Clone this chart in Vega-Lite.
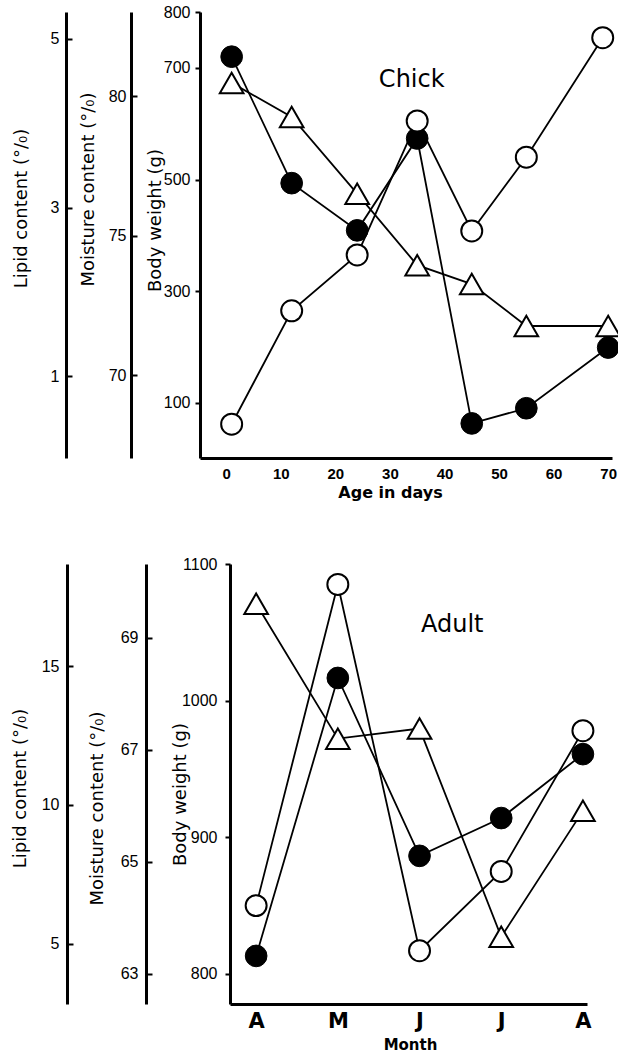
{
  "$schema": "https://vega.github.io/schema/vega-lite/v6.json",
  "padding": {"left": 11, "top": 4, "right": 0, "bottom": 0},
  "spacing": 56,
  "background": "white",
  "config": {
    "view": {"stroke": null},
    "axis": {"grid": false, "domainColor": "black", "domainWidth": 3, "tickColor": "black", "tickWidth": 2, "labelColor": "black", "titleColor": "black", "labelFont": "Liberation Sans", "titleFont": "DejaVu Sans", "titleFontWeight": "normal", "labelFontSize": 16, "titleFontSize": 18}
  },
  "datasets": {
    "chick": [
      {"series": "Lipid", "x": 1, "value": 4.79},
      {"series": "Lipid", "x": 12, "value": 3.29},
      {"series": "Lipid", "x": 24, "value": 2.73},
      {"series": "Lipid", "x": 35, "value": 3.82},
      {"series": "Lipid", "x": 45, "value": 0.44},
      {"series": "Lipid", "x": 55, "value": 0.62},
      {"series": "Lipid", "x": 70, "value": 1.34},
      {"series": "Moisture", "x": 1, "value": 80.47},
      {"series": "Moisture", "x": 12, "value": 79.25},
      {"series": "Moisture", "x": 24, "value": 76.5},
      {"series": "Moisture", "x": 35, "value": 73.94},
      {"series": "Moisture", "x": 45, "value": 73.26},
      {"series": "Moisture", "x": 55, "value": 71.76},
      {"series": "Moisture", "x": 70, "value": 71.76},
      {"series": "Body weight", "x": 1, "value": 62},
      {"series": "Body weight", "x": 12, "value": 265},
      {"series": "Body weight", "x": 24, "value": 365},
      {"series": "Body weight", "x": 35, "value": 605},
      {"series": "Body weight", "x": 45, "value": 408},
      {"series": "Body weight", "x": 55, "value": 540},
      {"series": "Body weight", "x": 69, "value": 754}
    ],
    "adult": [
      {"series": "Lipid", "x": 0, "value": 4.57},
      {"series": "Lipid", "x": 1, "value": 14.57},
      {"series": "Lipid", "x": 2, "value": 8.17},
      {"series": "Lipid", "x": 3, "value": 9.53},
      {"series": "Lipid", "x": 4, "value": 11.83},
      {"series": "Moisture", "x": 0, "value": 69.61},
      {"series": "Moisture", "x": 1, "value": 67.2},
      {"series": "Moisture", "x": 2, "value": 67.38},
      {"series": "Moisture", "x": 3, "value": 63.66},
      {"series": "Moisture", "x": 4, "value": 65.91},
      {"series": "Body weight", "x": 0, "value": 850},
      {"series": "Body weight", "x": 1, "value": 1085},
      {"series": "Body weight", "x": 2, "value": 817},
      {"series": "Body weight", "x": 3, "value": 875},
      {"series": "Body weight", "x": 4, "value": 978}
    ]
  },
  "vconcat": [
    {
      "width": 412,
      "height": 446,
      "data": {"name": "chick"},
      "encoding": {
        "x": {"field": "x", "type": "quantitative", "scale": {"domain": [-4.8, 70.7], "nice": false, "zero": false},
          "axis": {"values": [0, 10, 20, 30, 40, 50, 60, 70], "title": "Age in days", "ticks": false, "labelPadding": 8, "labelFontWeight": "bold", "labelFontSize": 15, "titleX": 190, "titleY": 34, "titleFontSize": 16, "titleFontWeight": "bold", "titleFont": "DejaVu Sans", "titleBaseline": "middle"}}
      },
      "layer": [
        {
          "encoding": {"y": {"field": "value", "type": "quantitative", "scale": {"domain": [0.03, 5.32], "nice": false, "zero": false},
            "axis": {"orient": "left", "offset": 134, "values": [1, 3, 5], "title": "Lipid content (°/₀)", "titleX": -45, "titleY": 196, "titleAngle": 270, "titleAlign": "center", "titleBaseline": "middle", "tickSize": -6, "labelPadding": 13}}},
          "layer": [
            {"transform": [{"filter": "datum.series === 'Lipid'"}], "mark": {"type": "line", "color": "black", "strokeWidth": 1.8}},
            {"transform": [{"filter": "datum.series === 'Lipid'"}], "mark": {"type": "point", "shape": "circle", "size": 470, "filled": true, "fill": "black", "stroke": "black", "strokeWidth": 1, "opacity": 1}}
          ]
        },
        {
          "encoding": {"y": {"field": "value", "type": "quantitative", "scale": {"domain": [67.03, 83.01], "nice": false, "zero": false},
            "axis": {"orient": "left", "offset": 69, "values": [70, 75, 80], "title": "Moisture content (°/₀)", "titleX": -43, "titleY": 177, "titleAngle": 270, "titleAlign": "center", "titleBaseline": "middle", "tickSize": -6, "labelPadding": 11}}},
          "layer": [
            {"transform": [{"filter": "datum.series === 'Moisture'"}], "mark": {"type": "line", "color": "black", "strokeWidth": 1.8}},
            {"transform": [{"filter": "datum.series === 'Moisture'"}], "mark": {"type": "point", "shape": "triangle-up", "size": 560, "filled": true, "fill": "white", "stroke": "black", "strokeWidth": 2, "opacity": 1}}
          ]
        },
        {
          "encoding": {"y": {"field": "value", "type": "quantitative", "scale": {"domain": [1.5, 800], "nice": false, "zero": false},
            "axis": {"orient": "left", "offset": 0, "values": [100, 300, 500, 700, 800], "format": "d", "title": "Body weight (g)", "titleX": -45, "titleY": 208, "titleAngle": 270, "titleAlign": "center", "titleBaseline": "middle", "tickSize": 5, "labelPadding": 5}}},
          "layer": [
            {"transform": [{"filter": "datum.series === 'Body weight'"}], "mark": {"type": "line", "color": "black", "strokeWidth": 1.8}},
            {"transform": [{"filter": "datum.series === 'Body weight'"}], "mark": {"type": "point", "shape": "circle", "size": 440, "filled": true, "fill": "white", "stroke": "black", "strokeWidth": 2, "opacity": 1}},
            {"data": {"values": [{"x": 34, "value": 678, "label": "Chick"}]}, "mark": {"type": "text", "fontSize": 24, "font": "DejaVu Sans", "color": "black", "align": "center", "baseline": "middle"}, "encoding": {"text": {"field": "label"}}}
          ]
        }
      ],
      "resolve": {"scale": {"y": "independent"}}
    },
    {
      "width": 387,
      "height": 440,
      "data": {"name": "adult"},
      "encoding": {
        "x": {"field": "x", "type": "quantitative", "scale": {"domain": [-0.32, 4.05], "range": [30, 387], "nice": false, "zero": false},
          "axis": {"values": [0, 1, 2, 3, 4], "labelExpr": "['A','M','J','J','A'][datum.value]", "title": "Month", "ticks": false, "labelPadding": 6, "labelFontWeight": "bold", "labelFontSize": 21, "labelFont": "DejaVu Sans", "titleX": 210, "titleY": 40, "titleFontSize": 15, "titleFontWeight": "bold", "titleBaseline": "middle"}}
      },
      "layer": [
        {
          "encoding": {"y": {"field": "value", "type": "quantitative", "scale": {"domain": [2.84, 18.67], "nice": false, "zero": false},
            "axis": {"orient": "left", "offset": 133, "values": [5, 10, 15], "title": "Lipid content (°/₀)", "titleX": -47, "titleY": 224, "titleAngle": 270, "titleAlign": "center", "titleBaseline": "middle", "tickSize": -6, "labelPadding": 14}}},
          "layer": [
            {"transform": [{"filter": "datum.series === 'Lipid'"}], "mark": {"type": "line", "color": "black", "strokeWidth": 1.8}},
            {"transform": [{"filter": "datum.series === 'Lipid'"}], "mark": {"type": "point", "shape": "circle", "size": 470, "filled": true, "fill": "black", "stroke": "black", "strokeWidth": 1, "opacity": 1}}
          ]
        },
        {
          "encoding": {"y": {"field": "value", "type": "quantitative", "scale": {"domain": [62.46, 70.32], "nice": false, "zero": false},
            "axis": {"orient": "left", "offset": 54, "values": [63, 65, 67, 69], "title": "Moisture content (°/₀)", "titleX": -49, "titleY": 244, "titleAngle": 270, "titleAlign": "center", "titleBaseline": "middle", "tickSize": -6, "labelPadding": 14}}},
          "layer": [
            {"transform": [{"filter": "datum.series === 'Moisture'"}], "mark": {"type": "line", "color": "black", "strokeWidth": 1.8}},
            {"transform": [{"filter": "datum.series === 'Moisture'"}], "mark": {"type": "point", "shape": "triangle-up", "size": 560, "filled": true, "fill": "white", "stroke": "black", "strokeWidth": 2, "opacity": 1}}
          ]
        },
        {
          "encoding": {"y": {"field": "value", "type": "quantitative", "scale": {"domain": [778, 1100], "nice": false, "zero": false},
            "axis": {"orient": "left", "offset": -30, "values": [800, 900, 1000, 1100], "format": "d", "title": "Body weight (g)", "titleX": -50, "titleY": 230, "titleAngle": 270, "titleAlign": "center", "titleBaseline": "middle", "tickSize": 5, "labelPadding": 8}}},
          "layer": [
            {"transform": [{"filter": "datum.series === 'Body weight'"}], "mark": {"type": "line", "color": "black", "strokeWidth": 1.8}},
            {"transform": [{"filter": "datum.series === 'Body weight'"}], "mark": {"type": "point", "shape": "circle", "size": 440, "filled": true, "fill": "white", "stroke": "black", "strokeWidth": 2, "opacity": 1}},
            {"data": {"values": [{"x": 2.4, "value": 1055, "label": "Adult"}]}, "mark": {"type": "text", "fontSize": 24, "font": "DejaVu Sans", "color": "black", "align": "center", "baseline": "middle"}, "encoding": {"text": {"field": "label"}}}
          ]
        }
      ],
      "resolve": {"scale": {"y": "independent"}}
    }
  ]
}
